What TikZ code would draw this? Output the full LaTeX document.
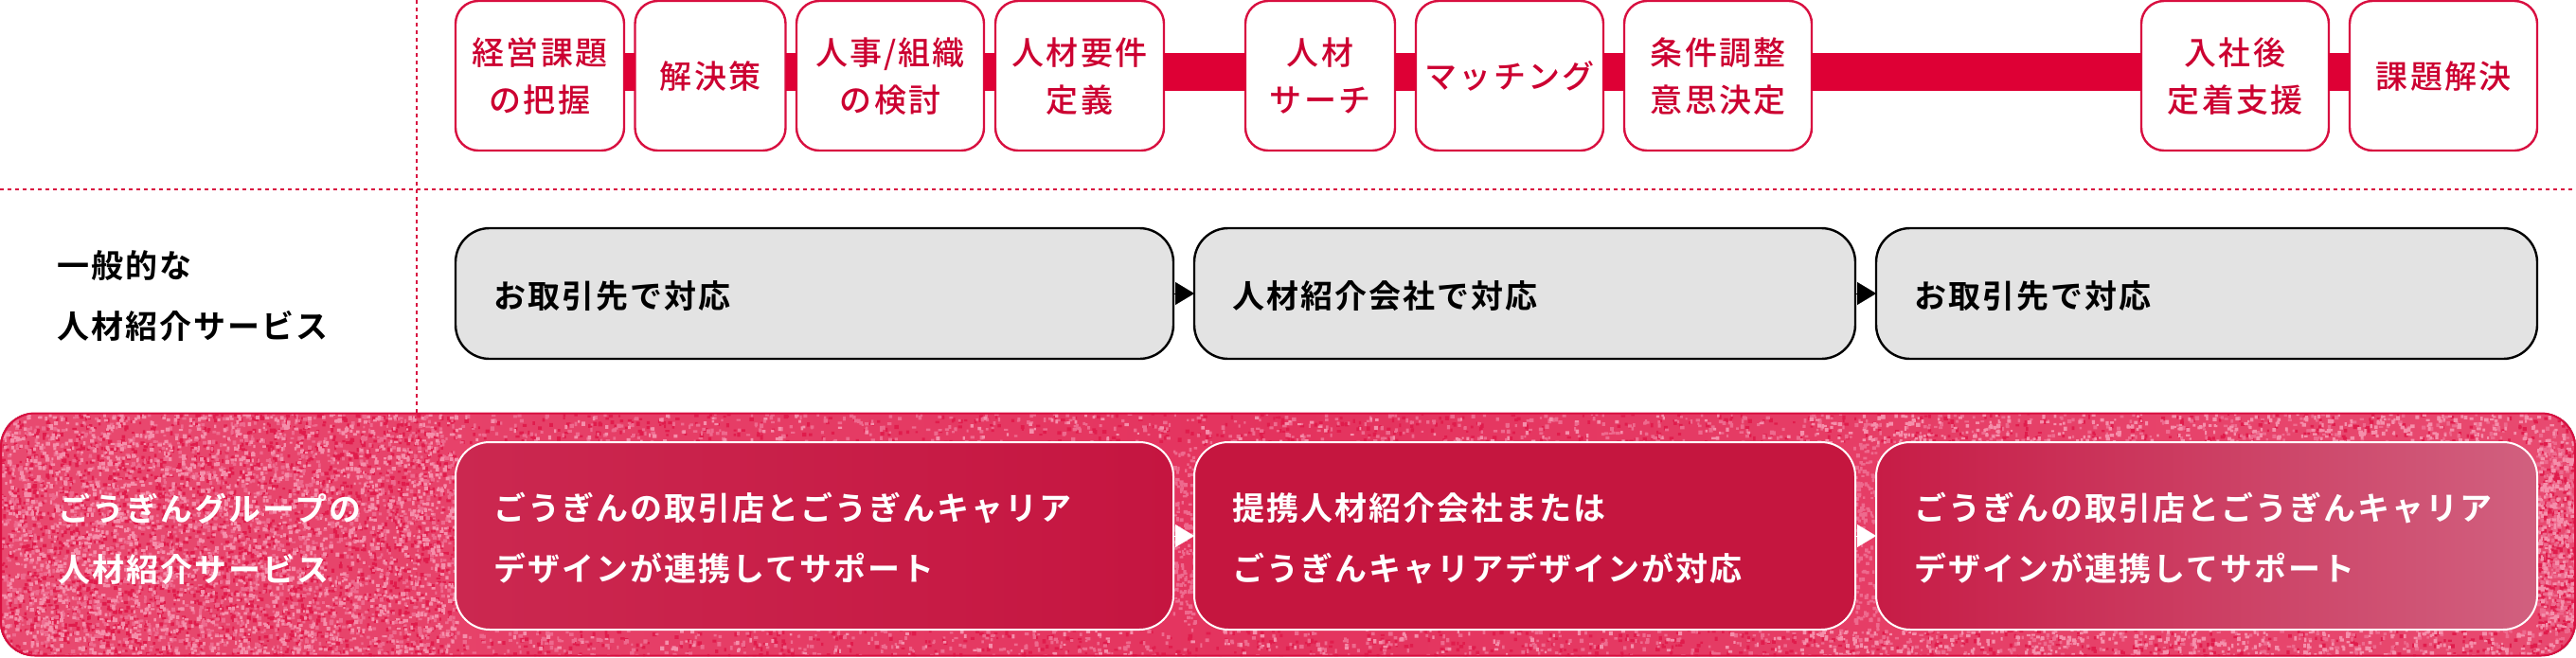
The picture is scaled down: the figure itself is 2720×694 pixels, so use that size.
\documentclass[tikz,border=0pt]{standalone}
\usepackage{fontspec}
\usetikzlibrary{arrows.meta}
\setmainfont{Noto Sans CJK JP}
\newfontfamily\jpmed[LetterSpace=6]{Noto Sans CJK JP Medium}
\newfontfamily\jpbold[LetterSpace=6]{Noto Sans CJK JP Bold}
\definecolor{brand}{HTML}{DE0035}
\definecolor{rim}{HTML}{D80F40}
\definecolor{grayfill}{HTML}{E3E3E3}
\definecolor{grainbase}{HTML}{E84A70}
\definecolor{grainpale}{HTML}{EE6A8E}
\definecolor{grainlight}{HTML}{F58FAB}
\definecolor{graindark}{HTML}{E01C4C}
% #5 = number of batches of 40 grains each
\newcommand{\grainpatch}[6]{\foreach \k in {1,...,#5}{\fill[#6] foreach \j in {1,...,40}{ ({#1+rnd*#2},{#3+rnd*#4}) rectangle +({2+rnd*2.6},{2+rnd*2.6}) };}}
\newcommand{\lowc}[1]{\begin{tabular}{@{}c@{}}\noalign{\vskip 6pt}#1\end{tabular}}
\newcommand{\lowl}[1]{\begin{tabular}{@{}l@{}}\noalign{\vskip 6pt}#1\end{tabular}}
\tikzset{
  stepbox/.style={draw=rim,line width=2.4pt,fill=white,rounded corners=24pt,minimum height=158pt,inner sep=0pt,outer sep=0pt,
    text=brand!92!black,font=\jpmed\fontsize{34}{50}\selectfont},
  graybox/.style={draw=black,line width=2.4pt,fill=grayfill,rounded corners=36pt,minimum height=138pt,inner sep=0pt,outer sep=0pt,
    align=left,font=\jpbold\fontsize{34}{64}\selectfont},
  redbox/.style={draw=white,line width=2pt,rounded corners=36pt,minimum height=198pt,inner sep=0pt,outer sep=0pt,
    text=white,align=left,font=\jpbold\fontsize{34}{64}\selectfont},
  sidelabel/.style={anchor=west,inner sep=0pt,align=left,font=\jpbold\fontsize{34}{64}\selectfont},
  bandline/.style={draw=brand,line width=40pt},
  dashrule/.style={draw=rim,line width=2pt,dash pattern=on 4pt off 4pt},
  tipblack/.style={draw=black,line width=0.1pt,-{Triangle[length=20pt,width=24pt,fill=black]}},
  tipwhite/.style={draw=white,line width=0.1pt,-{Triangle[length=20pt,width=24pt,fill=white]}},
}
\begin{document}
\begin{tikzpicture}[x=1pt,y=-1pt]
\useasboundingbox (0,0) rectangle (2720,694);
\coordinate (hl) at (0,200);
\coordinate (hr) at (2720,200);
\coordinate (vt) at (440,0);
\coordinate (vb) at (440,436);
\coordinate (ve) at (440,693);
\coordinate (bandy) at (0,76);
\draw[dashrule] (hl) -- (hr);
\draw[dashrule] (vt) -- (vb);
% panel with grain
\begin{scope}
\clip[rounded corners=36pt] (0,436) rectangle (2720,693);
\fill[left color=grainbase,right color=grainbase,middle color=graindark!50!grainbase] (0,436) rectangle (2720,693);
\pgfmathsetseed{4242}
\grainpatch{0}{481}{436}{257}{60}{graindark}
\grainpatch{0}{481}{436}{257}{50}{grainpale}
\grainpatch{0}{481}{436}{257}{55}{grainlight}
\grainpatch{481}{2239}{436}{31}{14}{graindark}
\grainpatch{481}{2239}{664}{29}{14}{graindark}
\grainpatch{481}{2239}{436}{31}{18}{grainpale}
\grainpatch{481}{2239}{664}{29}{18}{grainpale}
\grainpatch{481}{2239}{436}{31}{6}{grainlight}
\grainpatch{481}{2239}{664}{29}{6}{grainlight}
\grainpatch{1900}{820}{436}{31}{8}{grainlight}
\grainpatch{1900}{820}{664}{29}{8}{grainlight}
\grainpatch{1238}{24}{467}{198}{4}{grainpale}
\grainpatch{1957}{26}{467}{198}{4}{grainpale}
\grainpatch{2678}{42}{467}{198}{8}{graindark}
\grainpatch{2678}{42}{467}{198}{8}{grainpale}
\grainpatch{2678}{42}{467}{198}{6}{grainlight}
\end{scope}
\draw[dashrule,opacity=.2] (vb) -- (ve);
\node[draw=rim,line width=2pt,rounded corners=36pt,minimum width=2718pt,minimum height=256pt,inner sep=0pt,outer sep=0pt] (panel) at (1360,564.5) {};
% top row
\node[stepbox,minimum width=178pt] (b1) at (570,80) {\lowc{経営課題\\の把握}};
\node[stepbox,minimum width=159pt] (b2) at (750,80) {\lowc{解決策}};
\node[stepbox,minimum width=198pt] (b3) at (940,80) {\lowc{人事/組織\\の検討}};
\node[stepbox,minimum width=178pt] (b4) at (1140,80) {\lowc{人材要件\\定義}};
\node[stepbox,minimum width=158pt] (b5) at (1394,80) {\lowc{人材\\サーチ}};
\node[stepbox,minimum width=198pt] (b6) at (1594,80) {\lowc{マッチング}};
\node[stepbox,minimum width=198pt] (b7) at (1814,80) {\lowc{条件調整\\意思決定}};
\node[stepbox,minimum width=198pt] (b8) at (2360,80) {\lowc{入社後\\定着支援}};
\node[stepbox,minimum width=198pt] (b9) at (2580,80) {\lowc{課題解決}};
\foreach \p/\q in {b1/b2,b2/b3,b3/b4,b4/b5,b5/b6,b6/b7,b7/b8,b8/b9}{
  \draw[bandline] (\p.east |- bandy) -- (\q.west |- bandy);
}
% general row
\node[sidelabel] (l1) at (60,313) {一般的な\\人材紹介サービス};
\node[graybox,minimum width=758pt,text width=678pt] (g1) at (860,310) {\lowl{お取引先で対応}};
\node[graybox,minimum width=698pt,text width=618pt] (g2) at (1610,310) {\lowl{人材紹介会社で対応}};
\node[graybox,minimum width=698pt,text width=618pt] (g3) at (2330,310) {\lowl{お取引先で対応}};
\draw[tipblack] (g1.east) -- (g2.west);
\draw[tipblack] (g2.east) -- (g3.west);
% group row
\node[sidelabel,text=white] (l2) at (61,569) {ごうぎんグループの\\人材紹介サービス};
\node[redbox,minimum width=758pt,text width=678pt,shade,left color={rgb,255:red,203;green,40;blue,80},middle color={rgb,255:red,198;green,22;blue,63},right color={rgb,255:red,197;green,21;blue,64}] (r1) at (860,566) {\lowl{ごうぎんの取引店とごうぎんキャリア\\デザインが連携してサポート}};
\node[redbox,minimum width=698pt,text width=618pt,fill={rgb,255:red,197;green,22;blue,63}] (r2) at (1610,566) {\lowl{提携人材紹介会社または\\ごうぎんキャリアデザインが対応}};
\node[redbox,minimum width=698pt,text width=618pt,shade,left color={rgb,255:red,199;green,28;blue,70},middle color={rgb,255:red,204;green,48;blue,89},right color={rgb,255:red,209;green,96;blue,127}] (r3) at (2330,566) {\lowl{ごうぎんの取引店とごうぎんキャリア\\デザインが連携してサポート}};
\draw[tipwhite] (r1.east) -- (r2.west);
\draw[tipwhite] (r2.east) -- (r3.west);
\end{tikzpicture}
\end{document}
